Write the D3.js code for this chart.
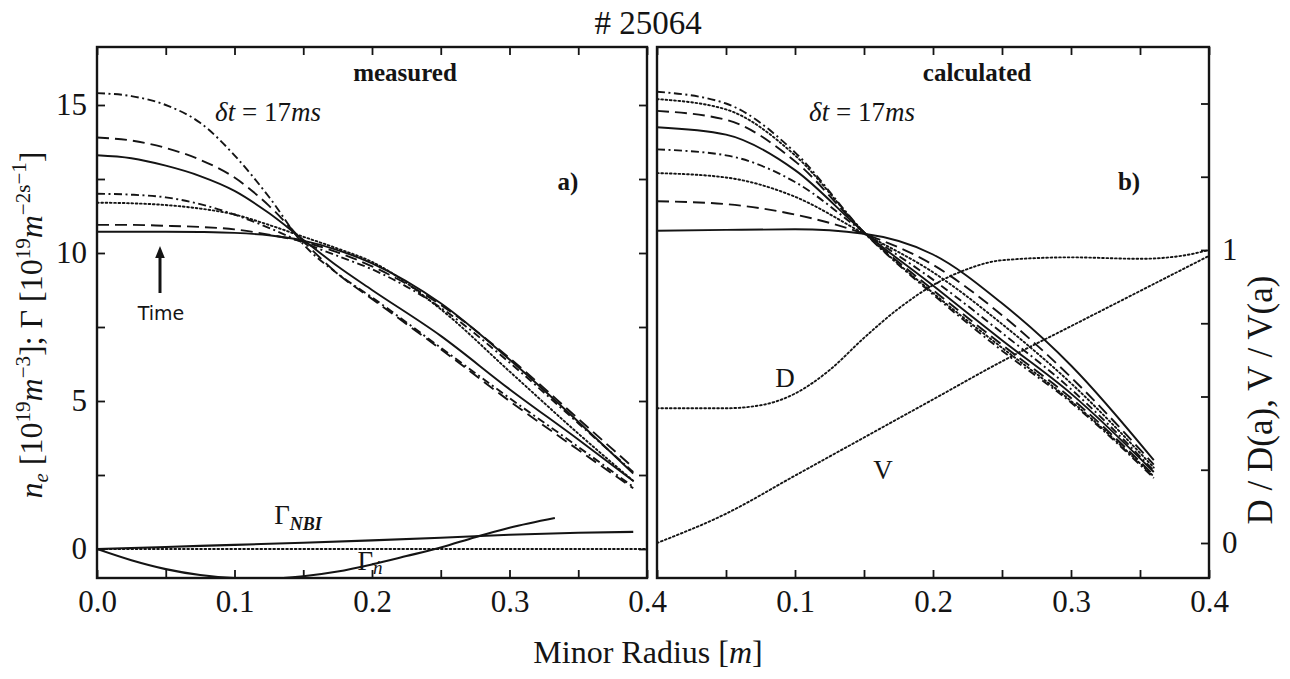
<!DOCTYPE html>
<html>
<head>
<meta charset="utf-8">
<script src="https://cdn.jsdelivr.net/npm/d3@7"></script>
<style>
  html, body { margin: 0; padding: 0; background: #ffffff; }
  svg { display: block; }
</style>
</head>
<body>
<svg id="chart" width="1290" height="679"></svg>
<script>
// ---------------- DATA ----------------
// Panel a) measured density profiles (10^19 m^-3) vs minor radius (m)
const radiusMeasured = [0, 0.025, 0.05, 0.075, 0.1, 0.125, 0.15, 0.175, 0.2, 0.25, 0.3, 0.35, 0.39];
const measSolidFlat   = [10.72, 10.72, 10.72, 10.71, 10.68, 10.6, 10.42, 10.1, 9.65, 8.3, 6.4, 4.3, 2.55];
const measDashedFlat  = [10.95, 10.95, 10.92, 10.88, 10.8, 10.62, 10.38, 10.02, 9.55, 8.25, 6.45, 4.4, 2.75];
const measDotted      = [11.7, 11.68, 11.62, 11.5, 11.3, 10.95, 10.55, 10.15, 9.7, 8.1, 6.0, 3.9, 2.3];
const measDashDotLow  = [12.0, 11.97, 11.88, 11.65, 11.3, 10.85, 10.35, 9.9, 9.45, 8.15, 6.3, 4.25, 2.6];
const measSolidPeak   = [13.3, 13.2, 12.95, 12.6, 12.1, 11.35, 10.45, 9.55, 8.75, 7.2, 5.4, 3.7, 2.3];
const measDashedPeak  = [13.9, 13.8, 13.55, 13.15, 12.55, 11.6, 10.4, 9.3, 8.45, 6.75, 5.0, 3.35, 2.05];
const measDashDotTop  = [15.4, 15.3, 15.0, 14.4, 13.3, 11.9, 10.3, 9.3, 8.5, 6.8, 5.1, 3.45, 2.1];

// Fluxes (10^19 m^-2 s^-1)
const radiusNBI = [0, 0.05, 0.1, 0.15, 0.2, 0.25, 0.3, 0.35, 0.39];
const fluxNBI   = [0, 0.07, 0.14, 0.21, 0.29, 0.38, 0.48, 0.55, 0.58];
const radiusGn  = [0, 0.025, 0.05, 0.075, 0.1, 0.125, 0.15, 0.175, 0.2, 0.225, 0.25, 0.275, 0.3, 0.333];
const fluxGn    = [0, -0.38, -0.68, -0.88, -0.98, -1.0, -0.92, -0.76, -0.52, -0.24, 0.05, 0.4, 0.72, 1.05];
const radiusZero = [0, 0.4];
const fluxZero   = [0, 0];

// Panel b) calculated density profiles
const radiusCalc = [0, 0.05, 0.1, 0.15, 0.2, 0.25, 0.3, 0.36];
const calcSolidFlat  = [10.75, 10.78, 10.8, 10.65, 9.95, 8.3, 6.2, 3.0];
const calcDashed1    = [11.75, 11.65, 11.3, 10.65, 9.6, 7.9, 5.8, 2.85];
const calcDotted1    = [12.7, 12.55, 11.9, 10.65, 9.35, 7.6, 5.6, 2.75];
const calcDashDot1   = [13.5, 13.3, 12.4, 10.7, 9.1, 7.3, 5.4, 2.65];
const calcSolid2     = [14.25, 14.0, 12.8, 10.7, 8.9, 7.05, 5.25, 2.6];
const calcDashed2    = [14.8, 14.5, 13.1, 10.7, 8.75, 6.9, 5.1, 2.5];
const calcDotted2    = [15.2, 14.85, 13.3, 10.7, 8.65, 6.8, 5.0, 2.45];
const calcDashDot2   = [15.45, 15.05, 13.4, 10.7, 8.6, 6.7, 4.95, 2.4];

// Transport coefficients normalised at the edge
const radiusD = [0, 0.05, 0.075, 0.1, 0.125, 0.15, 0.175, 0.2, 0.225, 0.25, 0.3, 0.35, 0.38, 0.4];
const valuesD = [0.46, 0.46, 0.47, 0.51, 0.59, 0.7, 0.8, 0.88, 0.935, 0.965, 0.975, 0.97, 0.98, 1.0];
const radiusV = [0, 0.05, 0.1, 0.15, 0.2, 0.25, 0.3, 0.35, 0.4];
const valuesV = [0.0, 0.1, 0.23, 0.36, 0.49, 0.62, 0.74, 0.86, 0.98];

// Tick labels
const xTicks = [0, 0.05, 0.1, 0.15, 0.2, 0.25, 0.3, 0.35, 0.4];
const xTickLabelsLeft  = {0: "0.0", 0.1: "0.1", 0.2: "0.2", 0.3: "0.3", 0.4: "0.4"};
const xTickLabelsRight = {0.1: "0.1", 0.2: "0.2", 0.3: "0.3", 0.4: "0.4"};
const yTicksN = [0, 2.5, 5, 7.5, 10, 12.5, 15];
const yTickLabelsN = {0: "0", 5: "5", 10: "10", 15: "15"};
const yTicksD = [0, 0.25, 0.5, 0.75, 1, 1.25, 1.5];
const yTickLabelsD = {0: "0", 1: "1"};

// ---------------- LAYOUT ----------------
const svg = d3.select("#chart");
const yTop = 47, yBottom = 578;
const panelA = {x0: 97, x1: 647};
const panelB = {x0: 657, x1: 1209};

const xL = d3.scaleLinear().domain([0, 0.4]).range([panelA.x0, panelA.x1]);
const xR = d3.scaleLinear().domain([0, 0.4]).range([panelB.x0, panelB.x1]);
const yN = d3.scaleLinear().domain([0, 15]).range([549, 105]);
const yD = d3.scaleLinear().domain([0, 1]).range([543, 250]);

const SERIF = '"Liberation Serif", "DejaVu Serif", serif';
const INK = "#141414";

const styles = {
  solid:   null,
  dashed:  "12,6",
  dashdot: "8,3.5,2,3.5",
  dotted:  "1.7,2.6"
};

function drawSeries(g, xs, ys, xScale, yScale, style, width) {
  const line = d3.line()
    .x(d => xScale(d[0]))
    .y(d => yScale(d[1]))
    .curve(d3.curveMonotoneX);
  g.append("path")
    .datum(xs.map((x, i) => [x, ys[i]]))
    .attr("d", line)
    .attr("fill", "none")
    .attr("stroke", INK)
    .attr("stroke-width", width || 1.9)
    .attr("stroke-dasharray", styles[style])
    .attr("stroke-linecap", style === "dotted" ? "round" : "butt");
}

function frame(p) {
  svg.append("rect")
    .attr("x", p.x0).attr("y", yTop)
    .attr("width", p.x1 - p.x0).attr("height", yBottom - yTop)
    .attr("fill", "none").attr("stroke", INK).attr("stroke-width", 2.4);
}

const defs = svg.append("defs");
defs.append("clipPath").attr("id", "clipL").append("rect")
  .attr("x", panelA.x0).attr("y", yTop).attr("width", panelA.x1 - panelA.x0).attr("height", yBottom - yTop);
defs.append("clipPath").attr("id", "clipR").append("rect")
  .attr("x", panelB.x0).attr("y", yTop).attr("width", panelB.x1 - panelB.x0).attr("height", yBottom - yTop);

function styleAxis(g) {
  g.select(".domain").remove();
  g.selectAll(".tick line").attr("stroke", INK).attr("stroke-width", 1.8);
  g.selectAll(".tick text").attr("fill", INK).attr("font-family", SERIF).attr("font-size", 31);
}

svg.append("g").attr("transform", `translate(0,${yBottom})`)
  .call(d3.axisBottom(xL).tickValues(xTicks).tickSize(-8).tickPadding(12)
    .tickFormat(d => xTickLabelsLeft[d] || ""))
  .call(styleAxis);
svg.append("g").attr("transform", `translate(0,${yTop})`)
  .call(d3.axisTop(xL).tickValues(xTicks).tickSize(-8).tickFormat(""))
  .call(styleAxis);
svg.append("g").attr("transform", `translate(0,${yBottom})`)
  .call(d3.axisBottom(xR).tickValues(xTicks).tickSize(-8).tickPadding(12)
    .tickFormat(d => xTickLabelsRight[d] || ""))
  .call(styleAxis);
svg.append("g").attr("transform", `translate(0,${yTop})`)
  .call(d3.axisTop(xR).tickValues(xTicks).tickSize(-8).tickFormat(""))
  .call(styleAxis);
svg.append("g").attr("transform", `translate(${panelA.x0},0)`)
  .call(d3.axisLeft(yN).tickValues(yTicksN).tickSize(-8).tickPadding(10)
    .tickFormat(d => yTickLabelsN[d] || ""))
  .call(styleAxis);
svg.append("g").attr("transform", `translate(${panelA.x1},0)`)
  .call(d3.axisRight(yN).tickValues(yTicksN).tickSize(-8).tickFormat(""))
  .call(styleAxis);
svg.append("g").attr("transform", `translate(${panelB.x1},0)`)
  .call(d3.axisRight(yD).tickValues(yTicksD.filter(v => yD(v) > yTop + 5)).tickSize(-8).tickPadding(13)
    .tickFormat(d => yTickLabelsD[d] || ""))
  .call(styleAxis);

frame(panelA);
frame(panelB);

const gL = svg.append("g").attr("clip-path", "url(#clipL)");
drawSeries(gL, radiusMeasured, measSolidFlat,  xL, yN, "solid");
drawSeries(gL, radiusMeasured, measDashedFlat, xL, yN, "dashed");
drawSeries(gL, radiusMeasured, measDotted,     xL, yN, "dotted");
drawSeries(gL, radiusMeasured, measDashDotLow, xL, yN, "dashdot");
drawSeries(gL, radiusMeasured, measSolidPeak,  xL, yN, "solid");
drawSeries(gL, radiusMeasured, measDashedPeak, xL, yN, "dashed");
drawSeries(gL, radiusMeasured, measDashDotTop, xL, yN, "dashdot");
drawSeries(gL, radiusZero, fluxZero, xL, yN, "dotted");
drawSeries(gL, radiusNBI, fluxNBI, xL, yN, "solid", 2.1);
drawSeries(gL, radiusGn, fluxGn, xL, yN, "solid", 2.1);

const gR = svg.append("g").attr("clip-path", "url(#clipR)");
drawSeries(gR, radiusCalc, calcSolidFlat, xR, yN, "solid");
drawSeries(gR, radiusCalc, calcDashed1,   xR, yN, "dashed");
drawSeries(gR, radiusCalc, calcDotted1,   xR, yN, "dotted");
drawSeries(gR, radiusCalc, calcDashDot1,  xR, yN, "dashdot");
drawSeries(gR, radiusCalc, calcSolid2,    xR, yN, "solid");
drawSeries(gR, radiusCalc, calcDashed2,   xR, yN, "dashed");
drawSeries(gR, radiusCalc, calcDotted2,   xR, yN, "dotted");
drawSeries(gR, radiusCalc, calcDashDot2,  xR, yN, "dashdot");
drawSeries(gR, radiusD, valuesD, xR, yD, "dotted");
drawSeries(gR, radiusV, valuesV, xR, yD, "dotted");

function text(x, y, str, opts) {
  opts = opts || {};
  return svg.append("text")
    .attr("x", x).attr("y", y)
    .attr("text-anchor", opts.anchor || "middle")
    .attr("font-family", opts.family || SERIF)
    .attr("font-size", opts.size || 24)
    .attr("font-weight", opts.weight || "normal")
    .attr("font-style", opts.style || "normal")
    .attr("fill", INK)
    .text(str);
}

text(648, 34, "# 25064", {size: 33});
text(405, 81, "measured", {size: 25, weight: "bold"});
text(977, 81, "calculated", {size: 25, weight: "bold"});
text(568, 190, "a)", {size: 25, weight: "bold"});
text(1129, 190, "b)", {size: 25, weight: "bold"});

function deltaT(x, y) {
  const t = svg.append("text").attr("x", x).attr("y", y).attr("text-anchor", "middle")
    .attr("font-family", SERIF).attr("font-size", 27).attr("fill", INK);
  t.append("tspan").attr("font-style", "italic").text("δt");
  t.append("tspan").text(" = 17");
  t.append("tspan").attr("font-style", "italic").text("ms");
}
deltaT(268, 121);
deltaT(862, 121);

defs.append("marker").attr("id", "arrow").attr("viewBox", "0 0 10 10")
  .attr("refX", 5).attr("refY", 5).attr("markerWidth", 4).attr("markerHeight", 6)
  .attr("orient", "auto")
  .append("path").attr("d", "M0,1 L10,5 L0,9 z").attr("fill", INK);
svg.append("line").attr("x1", 160).attr("y1", 293).attr("x2", 160).attr("y2", 252)
  .attr("stroke", INK).attr("stroke-width", 3).attr("marker-end", "url(#arrow)");
text(161, 320, "Time", {size: 19, family: '"DejaVu Sans", sans-serif'});

(function () {
  const t = svg.append("text").attr("x", 298).attr("y", 524).attr("text-anchor", "middle")
    .attr("font-family", SERIF).attr("font-size", 27).attr("fill", INK);
  t.append("tspan").text("Γ");
  t.append("tspan").attr("font-size", 18).attr("font-style", "italic").attr("font-weight", "bold")
    .attr("dy", 6).text("NBI");
  const t2 = svg.append("text").attr("x", 370).attr("y", 570).attr("text-anchor", "middle")
    .attr("font-family", SERIF).attr("font-size", 27).attr("fill", INK);
  t2.append("tspan").text("Γ");
  t2.append("tspan").attr("font-size", 19).attr("font-style", "italic").attr("dy", 4).text("ṅ");
})();

text(785, 387, "D", {size: 27});
text(883, 479, "V", {size: 27});

(function () {
  const t = svg.append("text").attr("x", 648).attr("y", 663).attr("text-anchor", "middle")
    .attr("font-family", SERIF).attr("font-size", 32).attr("fill", INK);
  t.append("tspan").text("Minor Radius [");
  t.append("tspan").attr("font-style", "italic").text("m");
  t.append("tspan").text("]");
})();

(function () {
  const t = svg.append("text")
    .attr("transform", "translate(42,325) rotate(-90)")
    .attr("text-anchor", "middle")
    .attr("font-family", SERIF).attr("font-size", 32).attr("fill", INK);
  const S = 21;
  t.append("tspan").attr("font-style", "italic").text("n");
  t.append("tspan").attr("font-size", S).attr("font-style", "italic").attr("dy", 6).text("e");
  t.append("tspan").attr("dy", -6).text(" [10");
  t.append("tspan").attr("font-size", S).attr("dy", -12).text("19");
  t.append("tspan").attr("dy", 12).attr("font-style", "italic").text("m");
  t.append("tspan").attr("font-size", S).attr("dy", -12).text("−3");
  t.append("tspan").attr("dy", 12).text("]; Γ [10");
  t.append("tspan").attr("font-size", S).attr("dy", -12).text("19");
  t.append("tspan").attr("dy", 12).attr("font-style", "italic").text("m");
  t.append("tspan").attr("font-size", S).attr("dy", -12).text("−2");
  t.append("tspan").attr("font-size", S).attr("dy", 0).text("s");
  t.append("tspan").attr("font-size", S).attr("dy", -4).text("−1");
  t.append("tspan").attr("dy", 16).text("]");
})();

svg.append("text")
  .attr("transform", "translate(1272,400) rotate(-90)")
  .attr("text-anchor", "middle")
  .attr("font-family", SERIF).attr("font-size", 35).attr("fill", INK)
  .text("D / D(a), V / V(a)");
</script>
</body>
</html>
